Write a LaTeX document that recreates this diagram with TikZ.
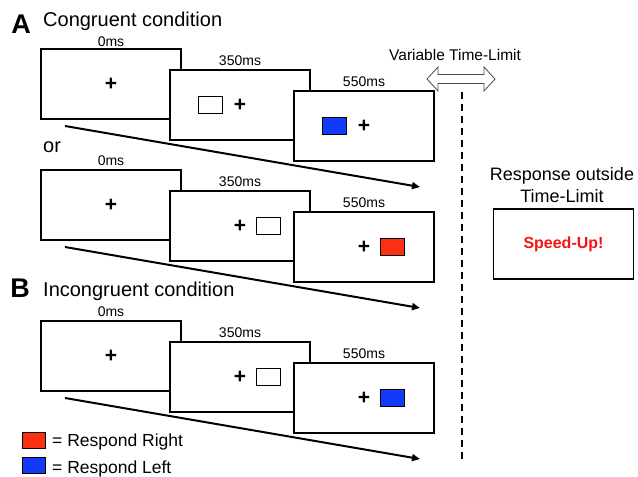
\documentclass[tikz,border=0pt]{standalone}
\usepackage{fontspec}
\setmainfont{Liberation Sans}
\usetikzlibrary{positioning,arrows.meta}

\definecolor{rightred}{RGB}{250,48,18}
\definecolor{leftblue}{RGB}{18,58,250}
\definecolor{speedred}{RGB}{245,20,20}

\tikzset{
  screen/.style={draw,fill=white,line width=1.3pt,minimum width=140pt,minimum height=70pt,inner sep=0pt},
  cue/.style={draw,line width=1pt,minimum width=24pt,minimum height=17pt,inner sep=0pt},
  fixcross/.style={font=\fontsize{21}{21}\selectfont\bfseries,inner sep=0pt},
  timelbl/.style={font=\fontsize{14}{14}\selectfont,inner sep=0pt},
  title/.style={font=\fontsize{20}{20}\selectfont,inner sep=0pt,anchor=base west},
  panel/.style={font=\fontsize{27}{27}\selectfont\bfseries,inner sep=0pt,anchor=base},
  trial/.style={line width=2pt,-{Triangle[length=8pt,width=7pt]}},
  legtxt/.style={font=\fontsize{17.5}{17.5}\selectfont,inner sep=0pt,anchor=base west}
}

\begin{document}
\begin{tikzpicture}[x=1pt,y=-1pt]
\useasboundingbox (0,0) rectangle (638,477);

% headings
\node[panel] (pA) at (21,33) {A};
\node[title] (tA) at (43,26) {Congruent condition};
\node[panel] (pB) at (20,297) {B};
\node[title] (tB) at (43,296) {Incongruent condition};
\node[title] (or) at (43,152) {or};

% time arrows
\coordinate (a1from) at (65,126);
\coordinate (a1to) at (420,187);
\coordinate (a2from) at (65,247);
\coordinate (a2to) at (420,308);
\coordinate (bfrom) at (65,398);
\coordinate (bto) at (420,459);
\draw[trial] (a1from) -- (a1to);
\draw[trial] (a2from) -- (a2to);
\draw[trial] (bfrom) -- (bto);

% congruent, cue left
\node[screen] (a1s1) at (111,84) {};
\node[screen] (a1s2) at (240,105) {};
\node[screen] (a1s3) at (364,126) {};
\node[timelbl,above=2pt of a1s1] (a1t1) {0ms};
\node[timelbl,above=4pt of a1s2] (a1t2) {350ms};
\node[timelbl,above=4pt of a1s3] (a1t3) {550ms};
\node[fixcross] (a1f1) at (a1s1) {+};
\node[fixcross] (a1f2) at (a1s2) {+};
\node[fixcross] (a1f3) at (a1s3) {+};
\node[cue,fill=white,left=11pt of a1f2] (a1c2) {};
\node[cue,fill=leftblue,left=11pt of a1f3] (a1c3) {};

% congruent, cue right
\node[screen] (a2s1) at (111,205) {};
\node[screen] (a2s2) at (240,226) {};
\node[screen] (a2s3) at (364,247) {};
\node[timelbl,above=4pt of a2s1] (a2t1) {0ms};
\node[timelbl,above=4pt of a2s2] (a2t2) {350ms};
\node[timelbl,above=4pt of a2s3] (a2t3) {550ms};
\node[fixcross] (a2f1) at (a2s1) {+};
\node[fixcross] (a2f2) at (a2s2) {+};
\node[fixcross] (a2f3) at (a2s3) {+};
\node[cue,fill=white,right=10pt of a2f2] (a2c2) {};
\node[cue,fill=rightred,right=10pt of a2f3] (a2c3) {};

% incongruent
\node[screen] (bs1) at (111,356) {};
\node[screen] (bs2) at (240,377) {};
\node[screen] (bs3) at (364,398) {};
\node[timelbl,above=4pt of bs1] (bt1) {0ms};
\node[timelbl,above=4pt of bs2] (bt2) {350ms};
\node[timelbl,above=4pt of bs3] (bt3) {550ms};
\node[fixcross] (bf1) at (bs1) {+};
\node[fixcross] (bf2) at (bs2) {+};
\node[fixcross] (bf3) at (bs3) {+};
\node[cue,fill=white,right=10pt of bf2] (bc2) {};
\node[cue,fill=leftblue,right=10pt of bf3] (bc3) {};

% time limit
\node[font=\fontsize{15.5}{15.5}\selectfont,inner sep=0pt,anchor=base west] (limit) at (389,60) {Variable Time-Limit};
\draw[black!70,fill=white,line width=0.8pt,line join=miter]
  (427,79) -- (438,67) -- (438,74.5) -- (484,74.5) -- (484,67) -- (495,79)
  -- (484,91) -- (484,83.5) -- (438,83.5) -- (438,91) -- cycle;
\coordinate (cuttop) at (462,92);
\coordinate (cutbot) at (462,462);
\draw[line width=1.5pt,dash pattern=on 7pt off 5pt] (cuttop) -- (cutbot);

% late response
\node[font=\fontsize{18}{22}\selectfont,align=center,inner sep=0pt] (late) at (562,185) {Response outside\\Time-Limit};
\node[screen,font=\fontsize{16}{16}\selectfont\bfseries,text=speedred] (speed) at (563.5,244) {Speed-Up!};

% legend
\node[cue,fill=rightred,minimum width=23pt,minimum height=16pt] (kred) at (33.5,440) {};
\node[cue,fill=leftblue,minimum width=23pt,minimum height=16pt] (kblue) at (33.5,465) {};
\node[legtxt] (kredtxt) at (52,446) {= Respond Right};
\node[legtxt] (kbluetxt) at (52,473) {= Respond Left};
\end{tikzpicture}
\end{document}
